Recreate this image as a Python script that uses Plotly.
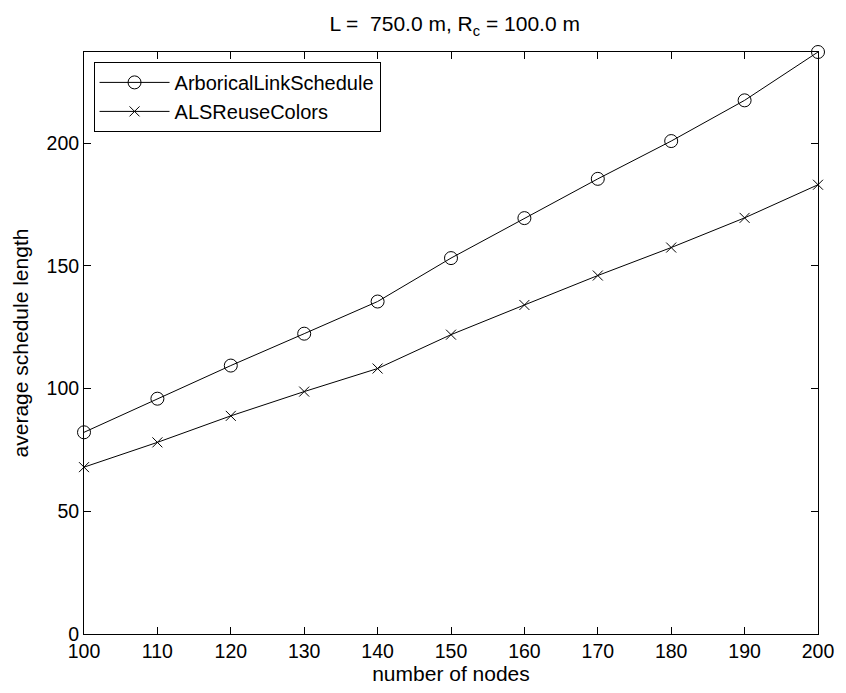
import plotly.graph_objects as go

nodes = [100, 110, 120, 130, 140, 150, 160, 170, 180, 190, 200]
arborical = [82.2, 95.9, 109.4, 122.4, 135.5, 153.2, 169.5, 185.5, 200.9, 217.5, 237.2]
als_reuse = [68.0, 78.1, 88.9, 98.8, 108.2, 122.0, 134.1, 146.1, 157.5, 169.6, 183.1]
x_ticks = list(range(100, 201, 10))
y_ticks = [0, 50, 100, 150, 200]

FONT = "Liberation Sans, Arial, Helvetica, sans-serif"

fig = go.Figure()
fig.add_trace(go.Scatter(
    x=nodes, y=arborical, mode="lines+markers", name="ArboricalLinkSchedule",
    line=dict(color="black", width=1),
    marker=dict(symbol="circle-open", size=13, color="black", line=dict(width=1, color="black")),
    cliponaxis=False,
))
fig.add_trace(go.Scatter(
    x=nodes, y=als_reuse, mode="lines+markers", name="ALSReuseColors",
    line=dict(color="black", width=1),
    marker=dict(symbol="x-thin-open", size=10, color="black", line=dict(width=1, color="black")),
    cliponaxis=False,
))

axis_common = dict(
    showline=True, linecolor="black", linewidth=1, mirror="ticks",
    ticks="inside", ticklen=7, tickcolor="black", tickwidth=1,
    showgrid=False, zeroline=False,
    tickfont=dict(family=FONT, size=19.5, color="black"),
)

# page body has an 8px default margin, so the figure is sized/placed to compensate
fig.update_layout(
    width=838, height=685,
    paper_bgcolor="white", plot_bgcolor="white",
    margin=dict(l=75, r=19, t=44, b=55),
    font=dict(family=FONT, size=20, color="black"),
    title=dict(
        text="L =  750.0 m, R<sub>c</sub> = 100.0 m",
        x=0.533, xanchor="center", y=0.977, yanchor="middle", yref="container",
        font=dict(family=FONT, size=21, color="black"),
    ),
    xaxis=dict(
        range=[100, 200], tickvals=x_ticks, ticktext=[str(v) for v in x_ticks],
        title=dict(text="number of nodes", font=dict(family=FONT, size=21), standoff=4),
        **axis_common,
    ),
    yaxis=dict(
        range=[0, 237.2], tickvals=y_ticks, ticktext=[str(v) for v in y_ticks],
        title=dict(text="average schedule length", font=dict(family=FONT, size=21), standoff=12),
        **axis_common,
    ),
    legend=dict(
        x=0.013, y=0.983, xanchor="left", yanchor="top",
        bgcolor="white", bordercolor="black", borderwidth=1,
        font=dict(family=FONT, size=20, color="black"),
        itemwidth=70, tracegroupgap=0,
    ),
    showlegend=True,
)

fig.write_html("out.html")
